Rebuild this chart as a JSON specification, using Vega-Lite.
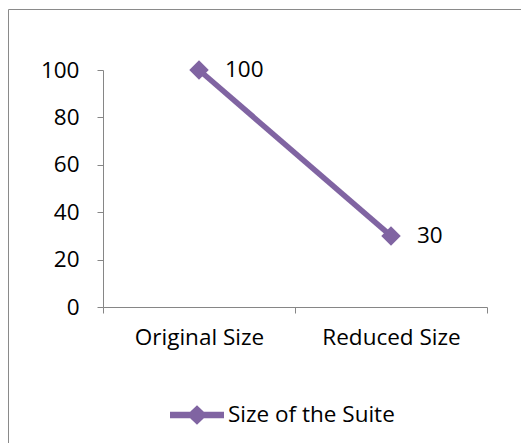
{
  "$schema": "https://vega.github.io/schema/vega-lite/v6.json",
  "width": 516,
  "height": 436,
  "autosize": "none",
  "padding": {"left": 8, "top": 9, "right": 0, "bottom": 0},
  "background": "white",
  "config": {
    "view": {"stroke": "#8a8a8a", "strokeWidth": 1},
    "font": "Open Sans",
    "text": {"font": "Open Sans"}
  },
  "data": {
    "values": [
      {"stage": "Original Size", "size": 100, "series": "Size of the Suite"},
      {"stage": "Reduced Size", "size": 30, "series": "Size of the Suite"}
    ]
  },
  "encoding": {
    "x": {
      "field": "stage",
      "type": "nominal",
      "sort": null,
      "scale": {"type": "band", "range": [95, 479], "paddingInner": 0, "paddingOuter": 0},
      "axis": {
        "title": null,
        "labelAngle": 0,
        "tickBand": "extent",
        "offset": -138,
        "domainColor": "#868686",
        "tickColor": "#868686",
        "tickSize": 6,
        "labelPadding": 13,
        "labelFontSize": 22.5,
        "labelColor": "black",
        "labelFont": "Open Sans"
      }
    },
    "y": {
      "field": "size",
      "type": "quantitative",
      "scale": {"domain": [0, 100], "range": [298, 61], "nice": false},
      "axis": {
        "title": null,
        "values": [0, 20, 40, 60, 80, 100],
        "grid": false,
        "offset": -95,
        "domainColor": "#868686",
        "tickColor": "#868686",
        "tickSize": 6,
        "labelPadding": 18,
        "labelFontSize": 22.5,
        "labelColor": "black",
        "labelFont": "Open Sans"
      }
    }
  },
  "layer": [
    {
      "mark": {"type": "line", "strokeWidth": 5.5, "color": "#8064A2"}
    },
    {
      "mark": {"type": "point", "shape": "diamond", "filled": true, "size": 380, "opacity": 1},
      "encoding": {
        "color": {
          "field": "series",
          "type": "nominal",
          "scale": {"range": ["#8064A2"]},
          "legend": {
            "title": null,
            "orient": "none",
            "legendX": 161,
            "legendY": 378,
            "padding": 0,
            "labelOffset": 3,
            "labelLimit": 400,
            "labelFontSize": 22.5,
            "labelColor": "black",
            "labelFont": "Open Sans",
            "symbolSize": 2916,
            "symbolType": "M-1,-0.12L1,-0.12L1,0.12L-1,0.12Z M-0.38,0L0,-0.36L0.38,0L0,0.36Z",
            "encode": {
              "symbols": {
                "update": {
                  "shape": {"value": "M-1,-0.12L1,-0.12L1,0.12L-1,0.12Z M-0.38,0L0,-0.36L0.38,0L0,0.36Z"},
                  "fill": {"value": "#8064A2"},
                  "stroke": {"value": "transparent"},
                  "opacity": {"value": 1}
                }
              }
            }
          }
        }
      }
    },
    {
      "mark": {"type": "text", "align": "left", "baseline": "middle", "dx": 26, "fontSize": 22.5, "font": "Open Sans", "color": "black"},
      "encoding": {"text": {"field": "size", "type": "quantitative"}}
    }
  ]
}
